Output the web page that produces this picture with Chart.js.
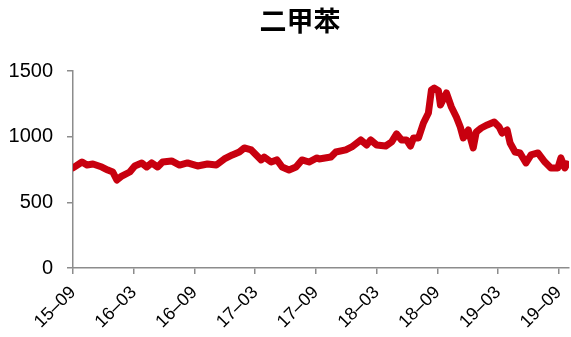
<!DOCTYPE html>
<html>
<head>
<meta charset="utf-8">
<script src="https://cdn.jsdelivr.net/npm/chart.js@4"></script>
<style>
  html, body { margin: 0; padding: 0; background: #fff; }
  #wrap { width: 571px; height: 337px; }
</style>
</head>
<body>
<div id="wrap"><canvas id="myChart" width="571" height="337"></canvas></div>
<script>
// months counted from 2015-09
const monthOffsets = [
  0, 0.89, 1.38, 1.97, 2.85, 3.44, 3.93, 4.33, 4.82, 5.61,
  6.10, 6.79, 7.28, 7.77, 8.36, 8.85, 9.74, 10.52, 11.31, 12.30,
  13.28, 14.16, 14.95, 15.74, 16.43, 16.92, 17.61, 18.10, 18.59, 18.89,
  19.57, 20.16, 20.66, 21.34, 22.03, 22.62, 23.31, 24.10, 24.30, 25.48,
  25.97, 26.95, 27.54, 28.43, 29.02, 29.41, 30.00, 30.89, 31.48, 31.97,
  32.46, 32.95, 33.34, 33.64, 34.13, 34.62, 35.11, 35.41, 35.70, 36.10,
  36.30, 36.89, 37.38, 37.87, 38.26, 38.56, 39.05, 39.54, 39.84, 40.33,
  40.92, 41.61, 42.10, 42.39, 42.89, 43.18, 43.67, 44.16, 44.75, 45.25,
  45.93, 46.62, 47.21, 47.90, 48.20, 48.59, 48.79
];
const xyleneValues = [
  762, 807, 784, 792, 769, 746, 731, 670, 700, 731,
  777, 800, 769, 800, 769, 807, 815, 784, 800, 777,
  792, 784, 830, 861, 883, 914, 899, 861, 823, 845,
  807, 823, 769, 746, 769, 823, 807, 838, 830, 845,
  883, 899, 922, 975, 937, 975, 937, 929, 960, 1021,
  975, 975, 929, 990, 990, 1104, 1180, 1356, 1370, 1350,
  1241, 1333, 1226, 1150, 1074, 990, 1051, 914, 1036, 1066,
  1089, 1112, 1074, 1028, 1051, 952, 883, 876, 800, 861,
  876, 807, 762, 762, 838, 762, 792
];
const xTickMonths = [0, 6, 12, 18, 24, 30, 36, 42, 48];
const xTickLabels = ['15–09', '16–03', '16–09', '17–03', '17–09', '18–03', '18–09', '19–03', '19–09'];
const yTicks = [0, 500, 1000, 1500];

const chartTitle = '二甲苯';
const axisGrey = '#8c8c8c';

// title sits a little right of the canvas centre, over the plot
const titlePlugin = {
  id: 'titleText',
  afterDraw(chart) {
    const ctx = chart.ctx;
    ctx.save();
    ctx.font = 'bold 27px "Noto Sans CJK SC"';
    ctx.fillStyle = '#000';
    ctx.textAlign = 'center';
    ctx.textBaseline = 'middle';
    ctx.fillText(chartTitle, 300, 21);
    ctx.restore();
  }
};

new Chart('myChart', {
  type: 'line',
  data: {
    datasets: [{
      label: chartTitle,
      data: monthOffsets.map((m, i) => ({ x: m, y: xyleneValues[i] })),
      borderColor: '#C8000F',
      borderWidth: 7,
      pointRadius: 0,
      tension: 0,
      borderJoinStyle: 'round',
      borderCapStyle: 'round'
    }]
  },
  plugins: [titlePlugin],
  options: {
    responsive: false,
    animation: false,
    layout: { padding: { left: 0, right: 2, top: 71, bottom: 0 } },
    plugins: {
      legend: { display: false },
      tooltip: { enabled: false },
      title: { display: false }
    },
    scales: {
      x: {
        type: 'linear',
        min: 0,
        max: 49,
        afterBuildTicks: axis => { axis.ticks = xTickMonths.map(v => ({ value: v })); },
        afterFit: axis => {
          axis.height = 69;
          axis.paddingRight = 0;
          axis.paddingLeft = 0;
        },
        ticks: {
          autoSkip: false,
          maxRotation: 45,
          minRotation: 45,
          color: '#000',
          padding: 8,
          font: { family: '"Liberation Sans", Arial', size: 18 },
          callback: v => xTickLabels[xTickMonths.indexOf(v)]
        },
        grid: { drawOnChartArea: false, drawTicks: true, tickLength: 6, color: axisGrey, lineWidth: 1.5 },
        border: { color: axisGrey, width: 1.5 }
      },
      y: {
        min: 0,
        max: 1500,
        afterBuildTicks: axis => { axis.ticks = yTicks.map(v => ({ value: v })); },
        afterFit: axis => { axis.width = 73; },
        ticks: {
          color: '#000',
          padding: 14,
          font: { family: '"Liberation Sans", Arial', size: 20 },
          callback: v => String(v)
        },
        grid: { drawOnChartArea: false, drawTicks: true, tickLength: 6, color: axisGrey, lineWidth: 1.5 },
        border: { color: axisGrey, width: 1.5 }
      }
    }
  }
});
</script>
</body>
</html>
